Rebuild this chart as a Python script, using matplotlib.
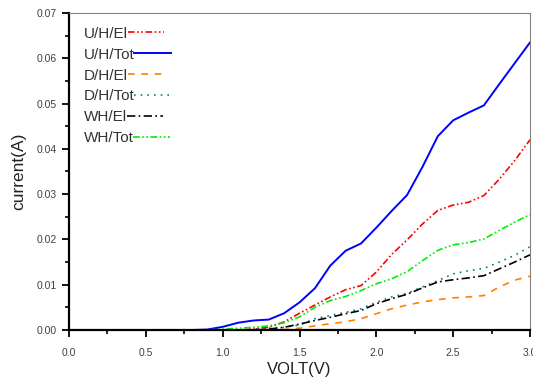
import numpy as np
import matplotlib
matplotlib.use("Agg")
import matplotlib.pyplot as plt
from matplotlib.ticker import MultipleLocator, FormatStrFormatter

plt.rcParams['font.family'] = ['Liberation Sans', 'DejaVu Sans']

volt = [round(0.1 * i, 1) for i in range(31)]

uh_el = [0, 0, 0, 0, 0, 0, 0, 0, 0, 0, 0, 0, 0.0002, 0.0006, 0.0018, 0.0037,
         0.0055, 0.0073, 0.0089, 0.0098, 0.0128, 0.0167, 0.0199, 0.0234, 0.0264,
         0.0276, 0.0282, 0.0297, 0.0333, 0.0374, 0.0420]
uh_tot = [0, 0, 0, 0, 0, 0, 0, 0, 0, 0.0001, 0.0007, 0.0016, 0.0021, 0.0023, 0.0037,
          0.0061, 0.0092, 0.0142, 0.0175, 0.0191, 0.0226, 0.0263, 0.0298, 0.0360,
          0.0428, 0.0463, 0.0480, 0.0496, 0.0543, 0.0589, 0.0635]
dh_el = [0, 0, 0, 0, 0, 0, 0, 0, 0, 0, 0, 0, 0, 0, 0.0001, 0.0004, 0.0009, 0.0014,
         0.0018, 0.0025, 0.0036, 0.0047, 0.0055, 0.0062, 0.0067, 0.0071, 0.0073,
         0.0076, 0.0095, 0.0110, 0.0119]
dh_tot = [0, 0, 0, 0, 0, 0, 0, 0, 0, 0, 0, 0, 0.0002, 0.0004, 0.0006, 0.0011,
          0.0025, 0.0032, 0.0039, 0.0047, 0.0061, 0.0073, 0.0081, 0.0095, 0.0109,
          0.0124, 0.0131, 0.0136, 0.0150, 0.0165, 0.0184]
wh_el = [0, 0, 0, 0, 0, 0, 0, 0, 0, 0, 0, 0, 0, 0.0002, 0.0006, 0.0013, 0.0021,
         0.0028, 0.0036, 0.0043, 0.0058, 0.0069, 0.0079, 0.0093, 0.0106, 0.0111,
         0.0115, 0.0120, 0.0135, 0.0150, 0.0166]
wh_tot = [0, 0, 0, 0, 0, 0, 0, 0, 0, 0, 0.0002, 0.0004, 0.0006, 0.0009, 0.0016,
          0.0029, 0.0050, 0.0065, 0.0074, 0.0087, 0.0102, 0.0113, 0.0129, 0.0153,
          0.0176, 0.0188, 0.0193, 0.0201, 0.0220, 0.0238, 0.0255]

labels = ["U/H/El", "U/H/Tot", "D/H/El", "D/H/Tot", "WH/El", "WH/Tot"]

fig = plt.figure(figsize=(5.33, 3.88), dpi=100)
ax = fig.add_axes([0.1295, 0.1495, 0.8649, 0.817])

dashdotdot = (0, (4, 1.5, 1, 1.5, 1, 1.5))
ax.plot(volt, uh_el, color='#ff0000', lw=1.2, ls=dashdotdot, label=labels[0])
ax.plot(volt, uh_tot, color='#0000ff', lw=1.4, ls='-', label=labels[1])
ax.plot(volt, dh_el, color='#ff8000', lw=1.2, ls=(0, (4, 4)), label=labels[2])
ax.plot(volt, dh_tot, color='#008080', lw=1.2, ls=(0, (1, 3)), label=labels[3])
ax.plot(volt, wh_el, color='#000000', lw=1.2, ls=(0, (5, 2, 1, 2)), label=labels[4])
ax.plot(volt, wh_tot, color='#00ee00', lw=1.2, ls=dashdotdot, label=labels[5])

ax.set_xlim(0, 3.0)
ax.set_ylim(0, 0.07)
ax.xaxis.set_major_locator(MultipleLocator(0.5))
ax.xaxis.set_minor_locator(MultipleLocator(0.25))
ax.yaxis.set_major_locator(MultipleLocator(0.01))
ax.yaxis.set_minor_locator(MultipleLocator(0.005))
ax.xaxis.set_major_formatter(FormatStrFormatter('%.1f'))
ax.yaxis.set_major_formatter(FormatStrFormatter('%.2f'))

for side in ['left', 'bottom']:
    ax.spines[side].set_linewidth(1.6)
    ax.spines[side].set_color('black')
for side in ['top', 'right']:
    ax.spines[side].set_linewidth(0.8)
    ax.spines[side].set_color('#808080')

ax.tick_params(which='major', direction='out', length=5, width=1.3,
               labelsize=7.5, labelcolor='#404040', top=False, right=False)
ax.tick_params(which='minor', direction='out', length=3, width=1.2,
               top=False, right=False)
ax.tick_params(axis='x', pad=8)

ax.set_xlabel('VOLT(V)', fontsize=12, color='#222222', labelpad=3)
ax.set_ylabel('current(A)', fontsize=12.5, color='#222222', labelpad=8)

leg = ax.legend(loc='upper left', frameon=False, fontsize=11,
                markerfirst=False, handlelength=2.4, handletextpad=0.0,
                labelspacing=0.45, borderaxespad=0.4,
                bbox_to_anchor=(0.005, 0.995))
for col in leg._legend_handle_box.get_children():
    col.align = 'left'
for t in leg.get_texts():
    t.set_color('#333333')

fig.savefig('out.png', dpi=100)
